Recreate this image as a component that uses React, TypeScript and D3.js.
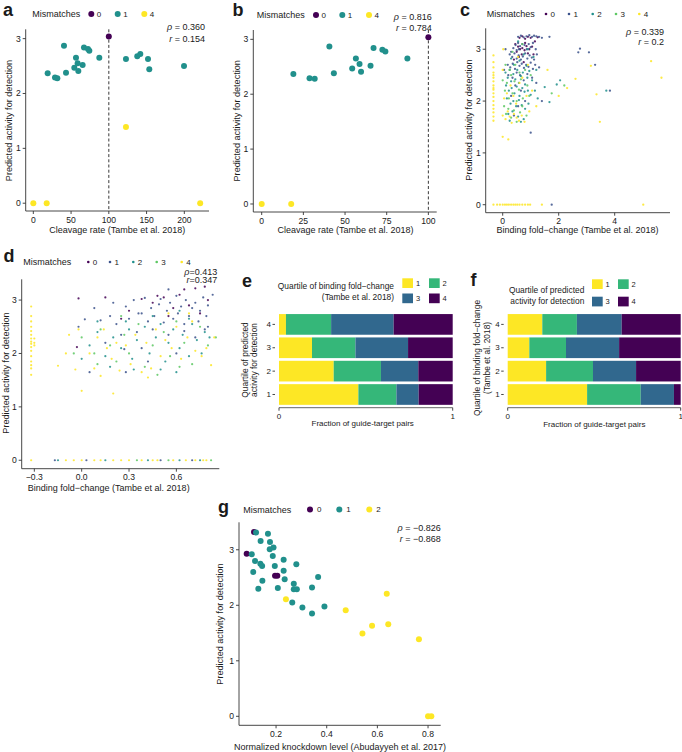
import React from 'react';
import * as d3 from 'd3';

const FONT = '"Liberation Sans", Arial, Helvetica, sans-serif';
const V5 = ['#440154', '#3B528B', '#21908C', '#5DC863', '#FDE725'];
const Q4 = ['#FDE725', '#35B779', '#31688E', '#440154'];

// ---- panels a / b: cleavage rate vs predicted activity ----
const abMis0: [number, number][] = [[100, 3.04]];
const abMis1: [number, number][] = [
  [19, 2.37], [28.7, 2.29], [31.8, 2.28], [40.6, 2.87], [43.3, 2.38], [54.3, 2.47], [56.5, 2.65],
  [58.7, 2.55], [59.6, 2.41], [65.3, 2.52], [67.1, 2.84], [72.4, 2.81], [74.2, 2.78], [87.4, 2.65],
  [122.7, 2.63], [137.7, 2.68], [141.7, 2.72], [151.9, 2.63], [153.6, 2.44], [199.6, 2.5],
];
const abMis4: [number, number][] = [[0, 0], [17.7, 0], [122.7, 1.39], [221, 0]];

// ---- panel c: binding fold-change (all) ----
const cMis0: [number, number][] = [
  [0.6, 3.22], [0.7, 3.25], [0.8, 3.2], [0.9, 3.24], [1.0, 3.22], [0.55, 3.05], [0.62, 3.0], [0.7, 3.02],
  [0.78, 2.98], [0.85, 3.06], [0.5, 2.95], [0.68, 2.9], [0.95, 3.0], [1.05, 3.05], [0.45, 3.1], [0.8, 3.12],
  [0.58, 2.85], [0.9, 2.92], [1.15, 3.15], [0.4, 2.8], [0.75, 2.75], [1.25, 3.23], [1.1, 2.9],
];
const cMis1: [number, number][] = [
  [0.55, 3.24], [0.65, 3.26], [0.75, 3.23], [0.85, 3.25], [0.95, 3.27], [1.05, 3.24], [1.12, 3.26], [1.2, 3.25],
  [1.3, 3.24], [1.4, 3.22], [1.67, 3.24], [0.38, 3.02], [0.46, 3.08], [0.55, 3.12], [0.62, 3.06], [0.7, 3.1],
  [0.78, 3.08], [0.86, 3.0], [0.93, 3.1], [1.0, 3.04], [1.08, 3.12], [1.18, 3.0], [0.3, 2.95], [0.5, 2.98],
  [0.58, 3.0], [0.25, 2.9], [0.34, 2.85], [0.42, 2.92], [0.5, 2.82], [0.57, 2.88], [0.65, 2.8], [0.72, 2.86],
  [0.8, 2.92], [0.88, 2.82], [0.96, 2.88], [1.04, 2.84], [1.12, 2.8], [1.22, 2.9], [0.18, 2.7], [0.27, 2.65],
  [0.36, 2.72], [0.44, 2.62], [0.52, 2.75], [0.6, 2.68], [0.68, 2.72], [0.76, 2.64], [0.84, 2.7], [0.92, 2.66],
  [1.0, 2.74], [1.08, 2.62], [1.16, 2.7], [1.3, 2.65], [0.2, 2.5], [0.35, 2.45], [0.5, 2.55], [0.62, 2.5],
  [0.75, 2.4], [0.88, 2.52], [1.05, 2.45], [0.45, 2.3], [0.65, 2.2], [0.3, 2.1], [0.55, 1.9], [0.8, 2.0],
  [0.4, 1.72], [1.0, 1.39], [1.75, 0], [2.76, 3.01], [2.7, 2.94], [3.08, 2.94], [3.3, 2.7], [3.83, 2.2],
  [1.4, 2.0], [0.05, 2.6], [0.1, 3.0], [1.2, 2.35],
];
const cMis2: [number, number][] = [
  [0.1, 2.55], [0.18, 2.45], [0.25, 2.6], [0.3, 2.38], [0.38, 2.52], [0.45, 2.42], [0.52, 2.6], [0.58, 2.35],
  [0.65, 2.48], [0.72, 2.55], [0.8, 2.32], [0.88, 2.45], [0.95, 2.58], [1.05, 2.4], [0.12, 2.3], [0.22, 2.2],
  [0.32, 2.25], [0.42, 2.15], [0.5, 2.28], [0.6, 2.1], [0.7, 2.25], [0.78, 2.18], [0.9, 2.2], [1.0, 2.12],
  [0.15, 2.05], [0.28, 1.95], [0.38, 2.0], [0.48, 1.9], [0.58, 2.02], [0.68, 1.92], [0.8, 1.85], [0.92, 1.95],
  [0.2, 1.75], [0.35, 1.8], [0.55, 1.7], [0.75, 1.65], [0.4, 2.7], [0.6, 2.78], [0.75, 2.9], [0.85, 2.68],
  [0.3, 2.82], [0.55, 3.15], [1.2, 2.6], [1.5, 2.27], [1.67, 1.98], [1.93, 2.32], [2.05, 2.4], [3.7, 2.2],
  [0.9, 3.0], [1.1, 2.85], [0.65, 1.6], [0.25, 1.62], [1.15, 2.2], [1.25, 2.05],
];
const cMis3: [number, number][] = [
  [0.0, 2.4], [0.08, 2.2], [0.15, 2.35], [0.22, 2.05], [0.3, 2.5], [0.35, 2.15], [0.42, 2.38], [0.5, 2.0],
  [0.58, 2.22], [0.65, 2.42], [0.72, 2.05], [0.8, 2.6], [0.88, 2.3], [0.05, 1.9], [0.12, 1.75], [0.2, 1.85],
  [0.3, 1.68], [0.4, 1.82], [0.5, 1.6], [0.62, 1.78], [0.7, 1.9], [0.85, 1.72], [0.95, 2.1], [1.0, 2.5],
  [0.45, 2.7], [0.6, 2.55], [1.75, 2.15], [2.2, 2.3], [0.25, 2.6], [0.1, 2.7], [0.7, 3.1], [0.35, 2.95],
];
const cMis4: [number, number][] = [
  [-0.33, 2.88], [-0.33, 2.75], [-0.33, 2.65], [-0.33, 2.55], [-0.33, 2.45], [-0.33, 2.38], [-0.33, 2.3],
  [-0.33, 2.22], [-0.33, 2.15], [-0.33, 2.08], [-0.33, 2.0], [-0.33, 1.92], [-0.33, 1.85], [-0.33, 1.78],
  [-0.33, 1.7], [-0.33, 1.62], [-0.33, 2.5], [-0.33, 2.25], [-0.33, 0], [-0.2, 0], [-0.1, 0], [0, 0],
  [0.08, 0], [0.15, 0], [0.22, 0], [0.3, 0], [0.38, 0], [0.45, 0], [0.52, 0], [0.6, 0], [0.7, 0], [0.8, 0],
  [0.9, 0], [0.98, 0], [1.4, 0], [5.02, 0], [0.0, 1.72], [0.1, 1.65], [0.18, 1.8], [0.25, 1.7], [0.32, 1.58],
  [0.4, 1.75], [0.5, 1.68], [0.58, 1.62], [0.68, 1.72], [0.78, 1.6], [0.05, 2.05], [0.15, 2.15], [0.28, 2.3],
  [0.38, 2.1], [0.48, 1.95], [0.6, 2.35], [0.7, 2.45], [0.85, 2.1], [0.95, 1.8], [0.0, 2.6], [0.02, 3.0],
  [0.0, 1.31], [0.2, 1.26], [0.55, 2.85], [1.05, 2.2], [1.2, 1.9], [2.3, 2.25], [2.6, 2.43], [3.15, 2.68],
  [3.35, 2.13], [3.47, 1.6], [5.3, 2.77], [5.67, 2.45], [1.6, 2.6], [2.0, 2.1], [0.9, 2.7],
];

// ---- panel d: binding fold-change (subset) ----
const dMis0: [number, number][] = [
  [-0.02, 3.03], [0.15, 3.05], [0.38, 3.02], [0.52, 3.05], [0.62, 3.1], [0.72, 3.22], [0.78, 3.25], [0.45, 2.95],
  [0.58, 2.85], [0.68, 2.9], [0.3, 2.8], [0.8, 3.0], [0.25, 2.65], [0.55, 2.7], [-0.03, 2.12], [0.48, 3.08],
  [0.65, 3.2], [0.75, 2.75],
];
const dMis1: [number, number][] = [
  [0.02, 2.64], [0.12, 2.62], [0.18, 2.7], [0.22, 2.55], [0.28, 2.88], [0.3, 2.65], [0.33, 3.0], [0.36, 2.75],
  [0.4, 3.04], [0.42, 2.6], [0.44, 2.85], [0.46, 2.7], [0.49, 2.92], [0.5, 3.02], [0.52, 2.58], [0.54, 2.8],
  [0.56, 2.95], [0.58, 2.65], [0.6, 3.08], [0.61, 2.75], [0.63, 2.88], [0.65, 2.55], [0.66, 3.0], [0.68, 2.7],
  [0.7, 2.85], [0.72, 2.95], [0.74, 2.6], [0.75, 2.8], [0.77, 3.05], [0.79, 2.7], [0.8, 2.9], [0.35, 2.4],
  [0.45, 2.45], [0.55, 2.35], [0.65, 2.42], [0.72, 2.3], [0.78, 2.45], [0.25, 2.35], [0.15, 2.2], [0.05, 1.65],
  [0.28, 1.65], [0.38, 2.1], [0.6, 2.0], [0.8, 2.5], [0.55, 3.2], [0.2, 2.95], [0.08, 2.85], [-0.02, 2.5],
  [0.42, 1.85], [0.27, 2.08], [-0.17, 0], [0.03, 0], [0.5, 0], [0.7, 0], [0.83, 3.1], [0.38, 2.75],
];
const dMis2: [number, number][] = [
  [0.05, 2.15], [0.1, 2.4], [0.15, 1.95], [0.2, 2.3], [0.25, 2.1], [0.3, 2.45], [0.32, 1.9], [0.35, 2.25],
  [0.4, 2.5], [0.43, 2.0], [0.47, 2.3], [0.5, 2.55], [0.53, 1.85], [0.55, 2.2], [0.58, 2.45], [0.62, 2.1],
  [0.64, 2.35], [0.68, 1.95], [0.7, 2.55], [0.73, 2.25], [0.76, 2.0], [0.78, 2.4], [0.81, 2.3], [0.33, 1.7],
  [0.5, 1.7], [0.6, 1.65], [0.18, 1.75], [0.0, 1.9], [0.45, 2.7], [0.68, 2.65], [0.28, 2.6], [-0.15, 0],
  [0.15, 0], [0.42, 0], [0.62, 0], [0.75, 0], [0.1, 2.6], [0.62, 2.8],
];
const dMis3: [number, number][] = [
  [0.0, 2.3], [0.08, 2.0], [0.12, 2.45], [0.18, 2.15], [0.22, 1.85], [0.27, 2.35], [0.3, 2.0], [0.36, 2.55],
  [0.4, 1.75], [0.45, 2.15], [0.52, 2.4], [0.56, 1.95], [0.6, 2.6], [0.65, 2.2], [0.7, 1.8], [0.75, 2.5],
  [0.8, 2.15], [0.25, 2.7], [0.48, 1.6], [0.62, 1.75], [0.85, 2.3], [0.1, 1.8], [-0.05, 2.0], [0.35, 0],
  [0.55, 0], [0.82, 0],
];
const dMis4: [number, number][] = [
  [-0.32, 2.88], [-0.32, 2.7], [-0.32, 2.6], [-0.32, 2.5], [-0.32, 2.42], [-0.32, 2.35], [-0.32, 2.28],
  [-0.32, 2.22], [-0.32, 2.18], [-0.32, 2.12], [-0.32, 2.05], [-0.32, 1.95], [-0.32, 1.85], [-0.32, 1.78],
  [-0.32, 1.72], [-0.32, 1.6], [-0.3, 2.2], [-0.3, 2.28], [-0.3, 2.15], [-0.32, 0], [-0.1, 0], [-0.05, 0],
  [0.0, 0], [0.08, 0], [0.12, 0], [0.2, 0], [0.25, 0], [0.3, 0], [0.38, 0], [0.45, 0], [0.48, 0], [0.58, 0],
  [0.66, 0], [0.72, 0], [0.77, 0], [0.79, 0], [-0.15, 1.77], [-0.1, 2.0], [-0.08, 2.35], [-0.04, 1.7],
  [-0.02, 2.45], [0.0, 1.3], [0.05, 2.0], [0.08, 1.72], [0.1, 2.3], [0.14, 2.45], [0.16, 2.1], [0.19, 1.9],
  [0.2, 1.25], [0.22, 2.2], [0.24, 1.68], [0.28, 2.15], [0.31, 1.8], [0.34, 2.35], [0.38, 1.65], [0.41, 2.2],
  [0.44, 1.72], [0.47, 2.45], [0.5, 1.95], [0.53, 2.25], [0.57, 2.1], [0.6, 2.5], [0.63, 1.9], [0.67, 2.3],
  [0.7, 2.6], [0.72, 2.05], [0.76, 1.95], [0.79, 2.1], [0.82, 1.78], [0.84, 2.3], [0.12, 1.58], [0.42, 1.55],
  [0.68, 2.75], [0.55, 2.75],
];

// ---- panel g: knockdown level ----
const gMis0: [number, number][] = [[0.084, 2.93], [0.113, 3.32], [0.196, 2.53], [0.205, 2.53]];
const gMis1: [number, number][] = [
  [0.121, 3.31], [0.104, 2.92], [0.117, 2.8], [0.11, 2.6], [0.13, 2.3], [0.139, 3.16], [0.138, 2.75],
  [0.145, 2.71], [0.146, 2.44], [0.168, 3.29], [0.176, 3.14], [0.175, 3.01], [0.19, 3.04], [0.187, 2.89],
  [0.195, 2.71], [0.207, 2.31], [0.23, 2.82], [0.23, 2.62], [0.234, 2.47], [0.27, 2.39], [0.27, 2.29],
  [0.282, 2.29], [0.28, 2.74], [0.264, 2.05], [0.304, 1.96], [0.342, 2.32], [0.342, 1.85], [0.366, 2.51],
  [0.391, 1.98],
];
const gMis2: [number, number][] = [
  [0.239, 2.11], [0.475, 1.91], [0.541, 1.49], [0.579, 1.63], [0.637, 2.21], [0.643, 1.66], [0.764, 1.39],
  [0.8, 0], [0.813, 0],
];

// ---- panels e / f: quartile fractions (rows: quartile 4,3,2,1) ----
const quartRows = ['4', '3', '2', '1'];
const eQ1 = [0.04, 0.19, 0.315, 0.457];
const eQ2 = [0.26, 0.25, 0.272, 0.219];
const eQ3 = [0.36, 0.303, 0.215, 0.128];
const eQ4 = [0.34, 0.257, 0.198, 0.196];
const fQ1 = [0.2, 0.125, 0.222, 0.459];
const fQ2 = [0.2, 0.212, 0.271, 0.31];
const fQ3 = [0.259, 0.307, 0.249, 0.192];
const fQ4 = [0.341, 0.356, 0.258, 0.039];

type Series = { label: string; color: string; pts: [number, number][] };

const AX = '#333333';
const TXT = '#1a1a1a';
const TAG = 18;

function Scatter(p: any) {
  const xs = d3.scaleLinear().domain(p.xDom).range([p.x0, p.x1]);
  const ys = d3.scaleLinear().domain(p.yDom).range([p.yBot, p.yTop]);
  const series: Series[] = p.series;
  const tOff = p.tickOff ?? 8.7;
  return (
    <g fontFamily={FONT} fill={TXT}>
      <text x={p.tagX} y={p.tagY} fontSize={TAG} fontWeight="bold">{p.tag}</text>
      <text x={p.legX} y={p.legY} dominantBaseline="central" fontSize={9}>Mismatches</text>
      {series.map((s, i) => (
        <g key={'l' + i}>
          <circle cx={p.legDots[i]} cy={p.legY} r={p.legR} fill={s.color} />
          <text x={p.legDots[i] + p.legGap} y={p.legY} dominantBaseline="central" fontSize={8}>{s.label}</text>
        </g>
      ))}
      {p.vline !== undefined && (
        <line x1={xs(p.vline)} x2={xs(p.vline)} y1={p.yTop} y2={p.yBot} stroke="#222" strokeWidth={0.9} strokeDasharray="3,2.2" />
      )}
      {series.map((s, i) => (
        <g key={'s' + i} fill={s.color} opacity={p.opacity ?? 1}>
          {s.pts.filter(d => d[0] >= p.xDom[0] && d[0] <= p.xDom[1]).map((d, j) => (
            <circle key={j} cx={xs(d[0])} cy={ys(d[1])} r={p.r} />
          ))}
        </g>
      ))}
      <line x1={p.x0} x2={p.x1} y1={p.yBot} y2={p.yBot} stroke={AX} strokeWidth={0.9} />
      <line x1={p.x0} x2={p.x0} y1={p.yTop} y2={p.yBot} stroke={AX} strokeWidth={0.9} />
      {p.xTicks.map((t: number, i: number) => (
        <g key={'xt' + i}>
          <line x1={xs(t)} x2={xs(t)} y1={p.yBot} y2={p.yBot + 3} stroke={AX} strokeWidth={0.9} />
          <text x={xs(t)} y={p.yBot + tOff} textAnchor="middle" dominantBaseline="central" fontSize={8.6}>{p.xFmt(t)}</text>
        </g>
      ))}
      {p.yTicks.map((t: number, i: number) => (
        <g key={'yt' + i}>
          <line x1={p.x0 - 3} x2={p.x0} y1={ys(t)} y2={ys(t)} stroke={AX} strokeWidth={0.9} />
          <text x={p.x0 - 5} y={ys(t)} textAnchor="end" dominantBaseline="central" fontSize={8.6}>{t}</text>
        </g>
      ))}
      <text x={p.xTitleX} y={p.xTitleY} textAnchor="middle" dominantBaseline="central" fontSize={9}>{p.xTitle}</text>
      <text transform={`translate(${p.yTitleX},${p.yTitleY}) rotate(-90)`} textAnchor="middle" dominantBaseline="central" fontSize={9.1}>
        Predicted activity for detection
      </text>
      <text x={p.corrX} y={p.corrY[0]} textAnchor="end" dominantBaseline="central" fontSize={9}>
        <tspan fontStyle="italic">ρ</tspan>{p.tight ? '=' : ' = '}{p.corr[0]}
      </text>
      <text x={p.corrX} y={p.corrY[1]} textAnchor="end" dominantBaseline="central" fontSize={9}>
        <tspan fontStyle="italic">r</tspan>{p.tight ? '=' : ' = '}{p.corr[1]}
      </text>
    </g>
  );
}

function StackPanel(p: any) {
  const xs = d3.scaleLinear().domain([0, 1]).range([p.x0, p.x1]);
  const ys = d3.scaleBand().domain(quartRows).range([312.9, 406]).paddingInner(0.115).paddingOuter(0.05);
  const rows = quartRows.map((q, i) => ({ q, k1: p.parts[0][i], k2: p.parts[1][i], k3: p.parts[2][i], k4: p.parts[3][i] }));
  const stacked = d3.stack<any>().keys(['k1', 'k2', 'k3', 'k4'])(rows);
  const axisY = 407.7;
  return (
    <g fontFamily={FONT} fill={TXT}>
      <text x={p.tagX} y={p.tagY} fontSize={TAG} fontWeight="bold">{p.tag}</text>
      {p.legTitle.map((t: string, i: number) => (
        <text key={'lt' + i} x={p.legTitleX} y={p.legTitleY[i]} textAnchor="end" dominantBaseline="central" fontSize={8.4}>{t}</text>
      ))}
      {['1', '2', '3', '4'].map((lab, i) => {
        const cx = p.swX[i % 2];
        const cy = p.swY[Math.floor(i / 2)];
        return (
          <g key={'sw' + i}>
            <rect x={cx} y={cy} width={10.7} height={9.7} fill={Q4[i]} />
            <text x={cx + 13.6} y={cy + 4.9} dominantBaseline="central" fontSize={7.5}>{lab}</text>
          </g>
        );
      })}
      {stacked.map((layer, li) => (
        <g key={'layer' + li} fill={Q4[li]}>
          {layer.map((seg: any, si: number) => (
            <rect key={si} x={xs(seg[0])} y={ys(seg.data.q)} width={xs(seg[1]) - xs(seg[0])} height={ys.bandwidth()} />
          ))}
        </g>
      ))}
      {quartRows.map(q => (
        <g key={'yq' + q}>
          <line x1={p.x0 - 6.5} x2={p.x0 - 4} y1={(ys(q) as number) + ys.bandwidth() / 2} y2={(ys(q) as number) + ys.bandwidth() / 2} stroke={AX} strokeWidth={0.9} />
          <text x={p.x0 - 8} y={(ys(q) as number) + ys.bandwidth() / 2} textAnchor="end" dominantBaseline="central" fontSize={8}>{q}</text>
        </g>
      ))}
      <line x1={p.x0} x2={p.x1} y1={axisY} y2={axisY} stroke="#555" strokeWidth={0.9} />
      {[0, 1].map(t => (
        <g key={'xt' + t}>
          <line x1={xs(t)} x2={xs(t)} y1={axisY} y2={axisY + 3} stroke={AX} strokeWidth={0.9} />
          <text x={xs(t)} y={axisY + 8.5} textAnchor="middle" dominantBaseline="central" fontSize={8}>{t}</text>
        </g>
      ))}
      <text x={p.xTitleX} y={p.xTitleY} textAnchor="middle" dominantBaseline="central" fontSize={8}>Fraction of guide-target pairs</text>
      {p.yTitle.map((t: string, i: number) => (
        <text key={'yt' + i} transform={`translate(${p.yTitleX[i]},${p.yTitleY}) rotate(-90)`} textAnchor="middle" dominantBaseline="central" fontSize={8.4}>{t}</text>
      ))}
    </g>
  );
}

export default function App() {
  const abSeries = (maxX: number): Series[] => [
    { label: '0', color: V5[0], pts: abMis0.filter(d => d[0] <= maxX) },
    { label: '1', color: V5[2], pts: abMis1.filter(d => d[0] <= maxX) },
    { label: '4', color: V5[4], pts: abMis4.filter(d => d[0] <= maxX) },
  ];
  const cSeries: Series[] = [cMis0, cMis1, cMis2, cMis3, cMis4].map((pts, i) => ({ label: String(i), color: V5[i], pts }));
  const dSeries: Series[] = [dMis0, dMis1, dMis2, dMis3, dMis4].map((pts, i) => ({ label: String(i), color: V5[i], pts }));
  const gSeries: Series[] = [
    { label: '0', color: V5[0], pts: gMis0 },
    { label: '1', color: V5[2], pts: gMis1 },
    { label: '2', color: V5[4], pts: gMis2 },
  ];
  const minus = (v: number) => (v < 0 ? '\u2212' : '') + Math.abs(v).toFixed(1);
  return (
    <svg width={682} height={752} style={{ position: 'absolute', left: 0, top: 0, background: '#fff' }}>
      <Scatter tag="a" tagX={3} tagY={16} x0={25.7} x1={209} yTop={29.3} yBot={211}
        xDom={[-10.1, 232.7]} yDom={[-0.142, 3.17]} xTicks={[0, 50, 100, 150, 200]} xFmt={String} yTicks={[0, 1, 2, 3]}
        series={abSeries(1000)} r={3} legX={32.3} legY={14} legDots={[91.3, 117.7, 144.3]} legR={3} legGap={5.5}
        vline={100} xTitle="Cleavage rate (Tambe et al. 2018)" xTitleX={117.2} xTitleY={230}
        yTitleX={9.3} yTitleY={120.5} corr={['0.360', '0.154']} corrX={205} corrY={[27.3, 39.3]} />
      <Scatter tag="b" tagX={232.5} tagY={16} x0={253.3} x1={436.7} yTop={30} yBot={212}
        xDom={[-5.04, 105]} yDom={[-0.146, 3.17]} xTicks={[0, 25, 50, 75, 100]} xFmt={String} yTicks={[0, 1, 2, 3]}
        series={abSeries(100)} r={3} legX={256.7} legY={15} legDots={[316, 342.3, 369]} legR={3} legGap={5.5}
        vline={100} xTitle="Cleavage rate (Tambe et al. 2018)" xTitleX={345.5} xTitleY={230}
        yTitleX={237.3} yTitleY={120.8} corr={['0.816', '0.784']} corrX={431.7} corrY={[17.3, 28.3]} />
      <Scatter tag="c" tagX={460} tagY={16} x0={485.7} x1={670} yTop={28.3} yBot={212.7}
        xDom={[-0.607, 5.975]} yDom={[-0.154, 3.404]} xTicks={[0, 2, 4]} xFmt={String} yTicks={[0, 1, 2, 3]} tickOff={7.8}
        series={cSeries} r={1.15} opacity={0.85} legX={486.7} legY={14} legDots={[546, 569, 592.7, 616, 639.3]} legR={1.3} legGap={4.5}
        xTitle="Binding fold−change (Tambe et al. 2018)" xTitleX={577.5} xTitleY={230.3}
        yTitleX={469} yTitleY={120} corr={['0.339', '0.2']} corrX={664} corrY={[31.7, 41.7]} />
      <Scatter tag="d" tagX={3.5} tagY={261.5} x0={21.7} x1={219.3} yTop={279.3} yBot={468.7}
        xDom={[-0.38, 0.872]} yDom={[-0.158, 3.389]} xTicks={[-0.3, 0, 0.3, 0.6]} xFmt={minus} yTicks={[0, 1, 2, 3]}
        series={dSeries} r={1.1} opacity={0.85} legX={23.3} legY={262} legDots={[88.3, 110, 133.3, 156.7, 181.7]} legR={1.3} legGap={4.5}
        xTitle="Binding fold−change (Tambe et al. 2018)" xTitleX={108.7} xTitleY={488.3}
        yTitleX={6} yTitleY={373} corr={['0.413', '0.347']} corrX={217.3} corrY={[271.5, 280]} tight />
      <StackPanel tag="e" tagX={242} tagY={286.5} x0={279} x1={452.7} parts={[eQ1, eQ2, eQ3, eQ4]}
        legTitle={['Quartile of binding fold−change', '(Tambe et al. 2018)']} legTitleX={394} legTitleY={[285.7, 297.3]}
        swX={[402.3, 429]} swY={[278.3, 293.5]} xTitleX={362.7} xTitleY={423.3}
        yTitle={['Quartile of predicted', 'activity for detection']} yTitleX={[244.5, 253.5]} yTitleY={360} />
      <StackPanel tag="f" tagX={470.5} tagY={286} x0={507.7} x1={680.7} parts={[fQ1, fQ2, fQ3, fQ4]}
        legTitle={['Quartile of predicted', 'activity for detection']} legTitleX={584.3} legTitleY={[290, 300.5]}
        swX={[592, 618]} swY={[279.3, 296.7]} xTitleX={594.3} xTitleY={424.3}
        yTitle={['Quartile of binding fold−change', '(Tambe et al. 2018)']} yTitleX={[477, 487]} yTitleY={358} />
      <Scatter tag="g" tagX={218} tagY={513} x0={239} x1={440.7} yTop={522.3} yBot={725.3}
        xDom={[0.0537, 0.85]} yDom={[-0.162, 3.495]} xTicks={[0.2, 0.4, 0.6, 0.8]} xFmt={(v: number) => v.toFixed(1)} yTicks={[0, 1, 2, 3]}
        series={gSeries} r={3} legX={243.3} legY={509.5} legDots={[310, 339.3, 369.3]} legR={3} legGap={7}
        xTitle="Normalized knockdown level (Abudayyeh et al. 2017)" xTitleX={340} xTitleY={746.7}
        yTitleX={220} yTitleY={624} corr={['−0.826', '−0.868']} corrX={440.7} corrY={[527.7, 539.3]} />
    </svg>
  );
}
